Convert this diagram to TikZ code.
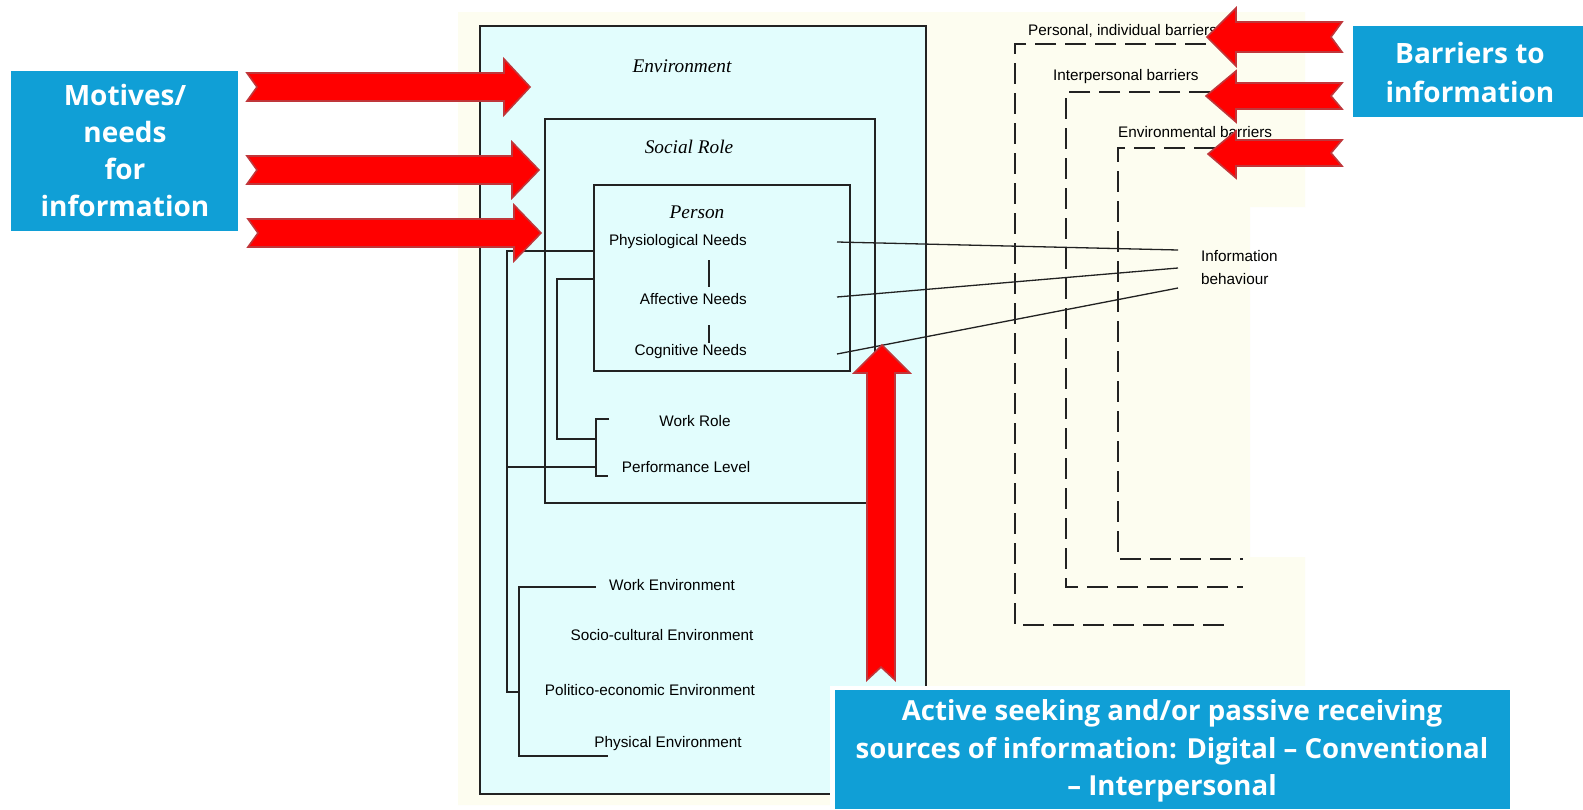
\documentclass[tikz,border=0pt]{standalone}
\usepackage{fontspec}
\setmainfont{Liberation Sans}
\newfontfamily\titlefont{Liberation Serif}
\newfontfamily\boxfont{Open Sans}
\definecolor{envcyan}{HTML}{E2FDFD}
\definecolor{cream}{HTML}{FDFDF0}
\definecolor{arrowred}{HTML}{FF0000}
\definecolor{arrowedge}{HTML}{C0363A}
\definecolor{boxblue}{HTML}{109FD6}
\definecolor{inkline}{HTML}{222222}
\tikzset{
  ln/.style={line width=1.4pt, draw=inkline},
  dashln/.style={line width=1.4pt, draw=inkline, dash pattern=on 21pt off 9pt},
  framebox/.style={ln, fill=envcyan},
  lbl/.style={inner sep=0pt, font=\fontsize{15.3}{17}\selectfont, text=black},
  ttl/.style={inner sep=0pt, font=\titlefont\itshape\fontsize{19.3}{21}\selectfont},
  bluebox/.style={fill=boxblue, draw=none},
  bluetext/.style={inner sep=0pt, text=white, align=center, font=\boxfont\bfseries},
  redarrow/.style={fill=arrowred, draw=arrowedge, line width=1.6pt, line join=miter}
}
\begin{document}
\begin{tikzpicture}[x=1pt,y=-1pt]
\useasboundingbox (0,0) rectangle (1583,809);
\fill[white] (0,0) rectangle (1583,809);
% cream backdrop
\fill[cream] (458,12) -- (1305,12) -- (1305,207) -- (1250,207) -- (1250,557) -- (1305,557) -- (1305,805) -- (458,805) -- cycle;

% nested boxes
\draw[framebox] (480,26) rectangle (926,794);
\draw[framebox] (545,119) rectangle (875,503);
\draw[ln] (594,185) rectangle (850,371);

% titles
\node[ttl] (env) at (682,66) {Environment};
\node[ttl] (soc) at (689,147) {Social Role};
\node[ttl] (per) at (697,212) {Person};

% needs
\node[lbl, anchor=east] (phys) at (747,242) {Physiological Needs};
\node[lbl, anchor=east] (aff) at (747,299) {Affective Needs};
\node[lbl, anchor=east] (cog) at (747,352) {Cognitive Needs};
\draw[ln] (709,260) -- (709,287);
\draw[ln] (709,325) -- (709,343);

% role / environment labels
\node[lbl] (wrole) at (695,421) {Work Role};
\node[lbl] (perf) at (686,467) {Performance Level};
\node[lbl] (wenv) at (672,585) {Work Environment};
\node[lbl] (scenv) at (662,635) {Socio-cultural Environment};
\node[lbl] (peenv) at (650,690) {Politico-economic Environment};
\node[lbl] (phenv) at (668,744) {Physical Environment};

% tree connectors
\draw[ln] (594,251) -- (507,251) -- (507,692) -- (519,692);
\draw[ln] (507,467) -- (596,467);
\draw[ln] (594,279) -- (557,279) -- (557,439) -- (596,439);
\draw[ln] (609,419) -- (596,419) -- (596,476) -- (608,476);
\draw[ln] (596,587) -- (519,587) -- (519,756) -- (608,756);

% information behaviour
\node[lbl, anchor=west, align=left, font=\fontsize{15.3}{23}\selectfont] (ib) at (1201,268) {Information\\behaviour};
\coordinate (p1) at (837,242);
\coordinate (p2) at (837,297);
\coordinate (p3) at (837,354);
\coordinate (q1) at (1178,250);
\coordinate (q2) at (1178,268);
\coordinate (q3) at (1178,288);
\draw[ln, line width=1.3pt] (p1) -- (q1);
\draw[ln, line width=1.3pt] (p2) -- (q2);
\draw[ln, line width=1.3pt] (p3) -- (q3);

% barriers
\node[lbl, anchor=west] (b1) at (1028,31) {Personal, individual barriers};
\node[lbl, anchor=west] (b2) at (1053,77) {Interpersonal barriers};
\node[lbl, anchor=west] (b3) at (1118,132) {Environmental barriers};
\draw[dashln] (1206,44) -- (1015,44) -- (1015,625) -- (1232,625);
\draw[dashln] (1210,92) -- (1066,92) -- (1066,587) -- (1243,587);
\draw[dashln] (1215,148) -- (1118,148) -- (1118,559) -- (1243,559);

% red arrows pointing right (left side)
\draw[redarrow] (247,73) -- (504,73) -- (504,59) -- (530,87) -- (504,115) -- (504,101) -- (247,101) -- (257,87) -- cycle;
\draw[redarrow] (247,156) -- (512,156) -- (512,142) -- (539,170) -- (512,198) -- (512,184) -- (247,184) -- (257,170) -- cycle;
\draw[redarrow] (248,219) -- (514,219) -- (514,205) -- (541,233) -- (514,261) -- (514,247) -- (248,247) -- (258,233) -- cycle;

% red arrows pointing left (right side)
\draw[redarrow] (1342,22) -- (1236,22) -- (1236,8) -- (1207,37) -- (1236,66) -- (1236,52) -- (1342,52) -- (1331,37) -- cycle;
\draw[redarrow] (1342,83) -- (1236,83) -- (1236,71) -- (1206,96) -- (1236,122) -- (1236,109) -- (1342,109) -- (1331,96) -- cycle;
\draw[redarrow] (1342,140) -- (1236,140) -- (1236,131) -- (1208,154) -- (1236,178) -- (1236,166) -- (1342,166) -- (1331,153) -- cycle;

% vertical red arrow
\draw[redarrow] (867,680) -- (867,373) -- (854,373) -- (882,345) -- (910,373) -- (895,373) -- (895,680) -- (881,667) -- cycle;

% blue boxes
\fill[bluebox] (11,71) rectangle (238,231);
\node[bluetext, font=\boxfont\bfseries\fontsize{28}{37}\selectfont] (motives) at (125,150) {Motives/\\needs\\for\\information};

\fill[bluebox] (1353,26) rectangle (1583,117);
\node[bluetext, font=\boxfont\bfseries\fontsize{28}{39}\selectfont] (barriers) at (1470,72) {Barriers to\\information};

\fill[white] (830,686) rectangle (1514,809);
\fill[bluebox] (835,690) rectangle (1510,809);
\node[bluetext, font=\boxfont\bfseries\fontsize{27.6}{37.5}\selectfont] (active) at (1172,751) {Active seeking and/or passive receiving\\sources of information: Digital – Conventional\\– Interpersonal};
\end{tikzpicture}
\end{document}
